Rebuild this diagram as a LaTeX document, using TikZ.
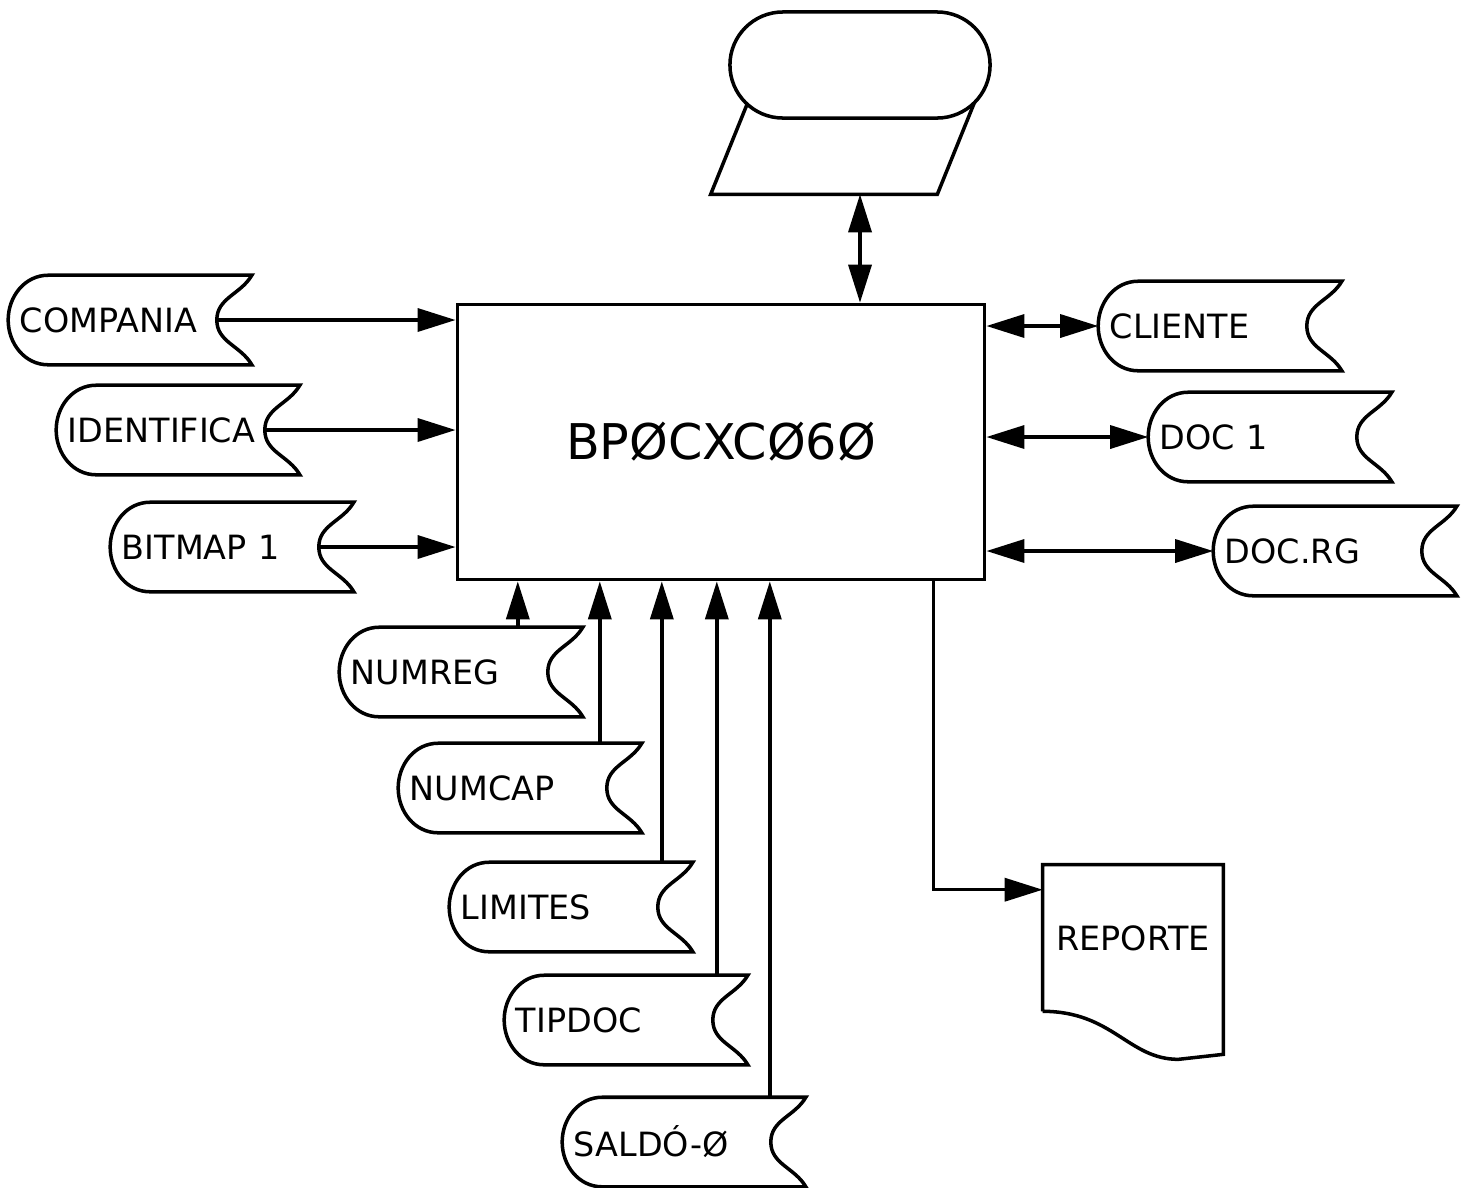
\documentclass[tikz,border=0pt]{standalone}
\usepackage{fontspec}
\setmainfont{DejaVu Sans}
\usetikzlibrary{arrows.meta}

\begin{document}
\begin{tikzpicture}[
            x=0.01cm, y=-0.01cm,
            line width=1pt,
            every node/.style={
                inner sep=0pt,
                font=\fontsize{9.5}{11}\selectfont
            },
            store/.style={
                text width=2.2cm,
                align=left,
                inner xsep=0.1cm,
                minimum height=0.86cm
            },
            flow/.style={-{Triangle[length=0.38cm,width=0.23cm]}},
            both/.style={{Triangle[length=0.38cm,width=0.23cm]}-{Triangle[length=0.38cm,width=0.23cm]}}
        ]
            \useasboundingbox (0,0) rectangle (1470,1187);

            \node[draw, minimum width=5.27cm, minimum height=2.75cm,
                font=\fontsize{14}{16}\selectfont] (box) at (721,442) {BPØCXCØ6Ø};

            \node[minimum width=2.23cm, minimum height=0.93cm] (disk) at (824,146) {};
            \draw (disk.south west) -- ([xshift=0.39cm]disk.north west)
                -- ([xshift=0.39cm]disk.north east) -- (disk.south east) -- cycle;
            \node[draw, fill=white, rounded corners=0.53cm,
                minimum width=2.6cm, minimum height=1.06cm] (term) at (860,65) {};

            \node[store] (comp) at (130,320) {COMPANIA};
            \node[store] (iden) at (178,430) {IDENTIFICA};
            \node[store] (bitm) at (232,547) {BITMAP 1};

            \node[store] (clie) at (1220,326) {CLIENTE};
            \node[store] (doc1) at (1270,437) {DOC 1};
            \node[store] (docr) at (1335,551) {DOC.RG};

            \node[store] (nreg) at (461,672) {NUMREG};
            \node[store] (ncap) at (520,788) {NUMCAP};
            \node[store] (lim) at (571,907) {LIMITES};
            \node[store] (tip) at (626,1020) {TIPDOC};
            \node[store] (sal) at (684,1142) {SALDÓ-Ø};

            \foreach \n in {comp,iden,bitm,clie,doc1,docr,nreg,ncap,lim,tip,sal}{
                \draw ([xshift=0.4cm]\n.north west) to[out=180,in=90] (\n.west)
                    to[out=-90,in=180] ([xshift=0.4cm]\n.south west)
                    -- (\n.south east) to[out=120,in=-90] ([xshift=-0.35cm]\n.east)
                    to[out=90,in=-120] (\n.north east) -- cycle;
            }

            \node[minimum width=1.77cm, minimum height=1.43cm] (rep) at (1133,938) {REPORTE};
            \draw (rep.south west) -- (rep.north west) -- (rep.north east)
                -- ([yshift=-0.43cm]rep.south east)
                -- ([xshift=-0.45cm,yshift=-0.48cm]rep.south east)
                .. controls +(-0.5cm,0) and +(0.7cm,0) .. (rep.south west);

            \draw[both] (disk.south -| term) -- (box.north -| term);

            \foreach \n in {comp,iden,bitm}
                \draw[flow] ([xshift=-0.35cm]\n.east) -- (\n.east -| box.west);

            \foreach \n in {clie,doc1,docr}
                \draw[both] (\n.west -| box.east) -- (\n.west);

            \foreach \n/\d in {nreg/0.65,ncap/0.42,lim/0.31,tip/0.31,sal/0.36}{
                \coordinate (\n-in) at ([xshift=-\d cm]\n.north east);
                \draw[flow] (\n-in) -- (\n-in |- box.south);
            }

            \draw[flow] ([xshift=-0.53cm]box.south east) |- ([yshift=-0.25cm]rep.north west);
        \end{tikzpicture}
\end{document}
